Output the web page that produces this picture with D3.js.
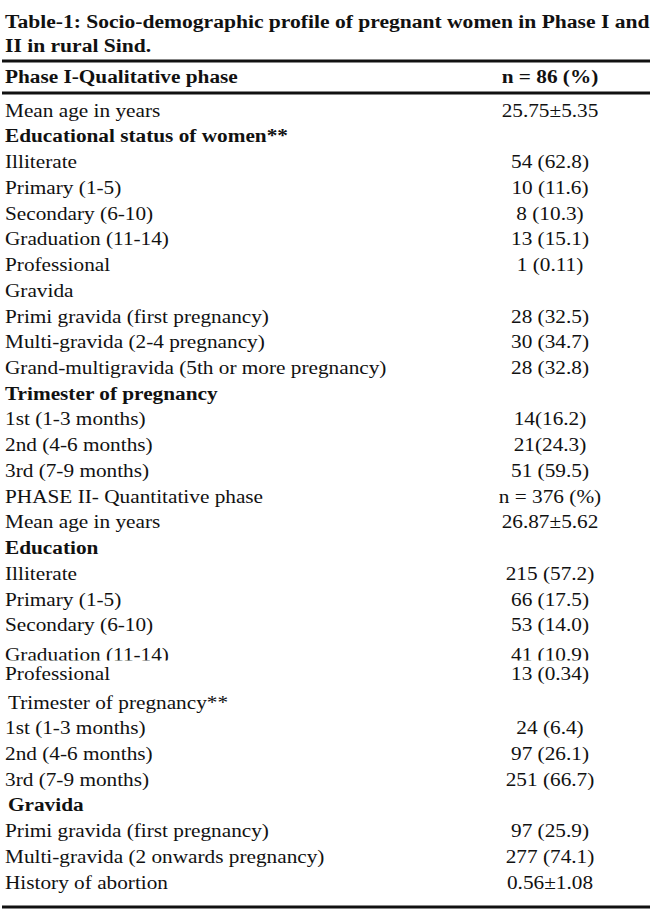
<!DOCTYPE html>
<html>
<head>
<meta charset="utf-8">
<script src="https://cdn.jsdelivr.net/npm/d3@7"></script>
<style>
  body { margin: 0; background: #fff; }
  text { font-family: "Liberation Serif", "Times New Roman", serif; fill: #111; }
</style>
</head>
<body>
<svg width="650" height="914"></svg>
<script>
// table contents
var titleLines = [
  "Table-1: Socio-demographic profile of pregnant women in Phase I and",
  "II in rural Sind."
];
var headerCells = ["Phase I-Qualitative phase", "n = 86 (%)"];

var rowLabels = [
  "Mean age in years",
  "Educational status of women**",
  "Illiterate",
  "Primary (1-5)",
  "Secondary (6-10)",
  "Graduation (11-14)",
  "Professional",
  "Gravida",
  "Primi gravida (first pregnancy)",
  "Multi-gravida (2-4 pregnancy)",
  "Grand-multigravida (5th or more pregnancy)",
  "Trimester of pregnancy",
  "1st (1-3 months)",
  "2nd (4-6 months)",
  "3rd (7-9 months)",
  "PHASE II- Quantitative phase",
  "Mean age in years",
  "Education",
  "Illiterate",
  "Primary (1-5)",
  "Secondary (6-10)",
  "Graduation (11-14)",
  "Professional",
  "Trimester of pregnancy**",
  "1st (1-3 months)",
  "2nd (4-6 months)",
  "3rd (7-9 months)",
  "Gravida",
  "Primi gravida (first pregnancy)",
  "Multi-gravida (2 onwards pregnancy)",
  "History of abortion"
];
var rowValues = [
  "25.75\u00b15.35", "",
  "54 (62.8)", "10 (11.6)", "8 (10.3)", "13 (15.1)", "1 (0.11)",
  "",
  "28 (32.5)", "30 (34.7)", "28 (32.8)",
  "",
  "14(16.2)", "21(24.3)", "51 (59.5)",
  "n = 376 (%)",
  "26.87\u00b15.62",
  "",
  "215 (57.2)", "66 (17.5)", "53 (14.0)", "41 (10.9)", "13 (0.34)",
  "",
  "24 (6.4)", "97 (26.1)", "251 (66.7)",
  "",
  "97 (25.9)", "277 (74.1)", "0.56\u00b11.08"
];
// section headings printed in bold (row indices)
var boldRows = [1, 11, 17, 27];
// headings set slightly in from the margin
var indentRows = [23, 27];

var svg = d3.select("svg"),
    width = +svg.attr("width"),
    fontSize = 19,
    stretch = 1.12,          // the scan is a little wider than plain Times
    labelX = 5,
    valueX = 550;

var y = d3.scalePoint()
    .domain(d3.range(rowLabels.length))
    .range([110, 882]);

// in the scan, phase II "Graduation" is squeezed up under "Professional"
// and its lower edge is cut off
var nudge = {21: 4, 22: -3};
var clipRow = 21;

function rowY(i) { return y(i) + (nudge[i] || 0); }

svg.append("defs").append("clipPath")
    .attr("id", "cut")
  .append("rect")
    .attr("x", 0).attr("width", width)
    .attr("y", 0).attr("height", rowY(clipRow) + 6);

// horizontal rules
var rules = [61, 93, 907];
svg.selectAll("line.rule")
  .data(rules)
  .enter().append("line")
  .attr("class", "rule")
  .attr("x1", 2).attr("x2", width)
  .attr("y1", function(d) { return d; })
  .attr("y2", function(d) { return d; })
  .attr("stroke", "#111")
  .attr("stroke-width", 3);

// text is stretched horizontally around its anchor
function put(sel, x, yy, str, anchor, bold, sx) {
  return sel.append("text")
    .attr("transform", "translate(" + x + "," + yy + ") scale(" + (sx || stretch) + ",1)")
    .attr("dy", "0.35em")
    .attr("text-anchor", anchor)
    .style("font-size", fontSize + "px")
    .style("font-weight", bold ? "bold" : "normal")
    .text(str);
}

var title = svg.append("g").attr("class", "title");
titleLines.forEach(function(t, i) {
  put(title, labelX, 21 + i * 24, t, "start", true, 1.135);
});

var head = svg.append("g").attr("class", "header");
put(head, labelX, 76, headerCells[0], "start", true);
put(head, valueX, 76, headerCells[1], "middle", true);

var rows = svg.append("g").attr("class", "rows");
rowLabels.forEach(function(lab, i) {
  var b = boldRows.indexOf(i) >= 0,
      ind = indentRows.indexOf(i) >= 0 ? 3 : 0,
      g = rows.append("g");
  if (i === clipRow) g.attr("clip-path", "url(#cut)");
  put(g, labelX + ind, rowY(i), lab, "start", b);
  if (rowValues[i]) put(g, valueX, rowY(i), rowValues[i], "middle", false);
});
</script>
</body>
</html>
